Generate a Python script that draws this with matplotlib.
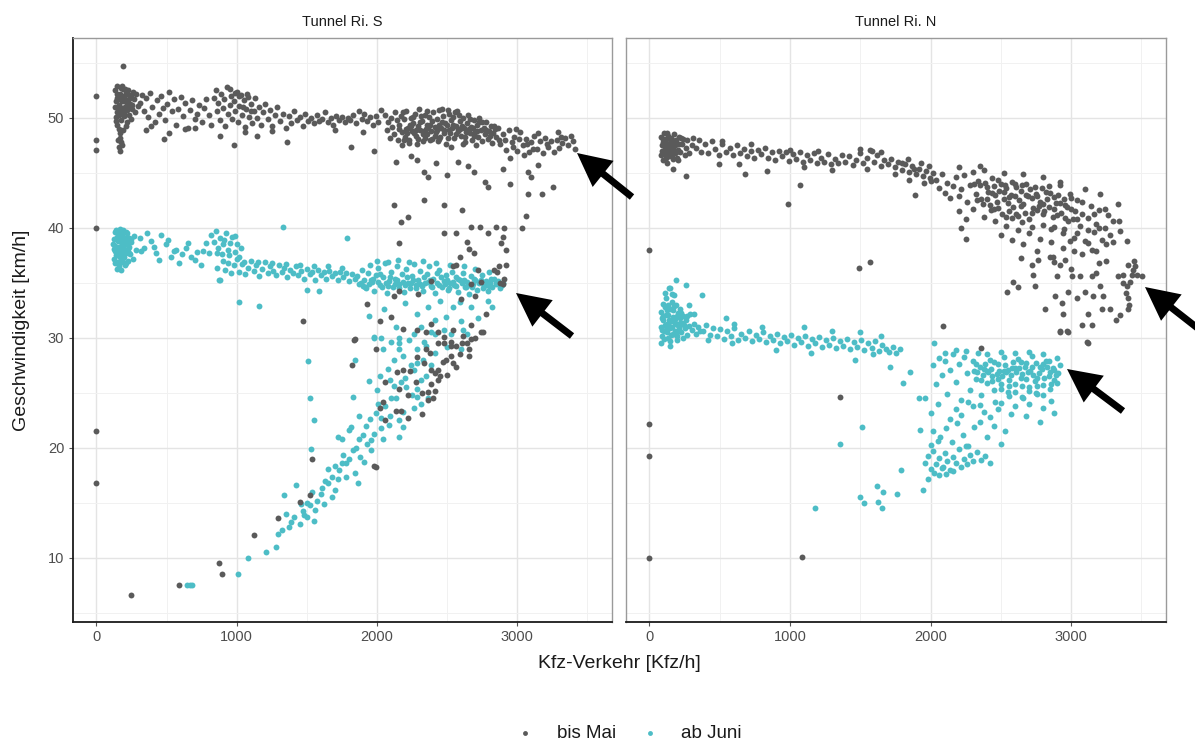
import matplotlib
matplotlib.use("Agg")
import matplotlib.pyplot as plt
from matplotlib.lines import Line2D
from matplotlib.patches import FancyArrowPatch
from matplotlib.ticker import MultipleLocator
import numpy as np

plt.rcParams['font.family'] = ['Liberation Sans', 'DejaVu Sans']

panel_titles = ["Tunnel Ri. S", "Tunnel Ri. N"]
series_labels = ["bis Mai", "ab Juni"]
series_colors = ["#5a5a5a", "#4dbdc6"]
x_ticks = [0, 1000, 2000, 3000]
y_ticks = [10, 20, 30, 40, 50]

# --- Tunnel Ri. S, bis Mai (Kfz/h, km/h) ---
s_mai = [
    (0, 52.0), (0, 48.0), (0, 47.1), (0, 40.0), (0, 21.5), (0, 16.8), (190, 54.7), (250, 6.6), (590, 7.5),
    (876, 9.5), (892, 8.5), (1123, 12.1), (1295, 13.6), (1448, 15.1), (1524, 15.7), (1537, 19.0), (1473, 31.5),
    (1834, 29.8), (1824, 27.5),
    (130, 52.5), (145, 51.8), (150, 52.9), (160, 51.2), (165, 50.6), (170, 52.2), (175, 49.8), (180, 51.5),
    (185, 50.9), (190, 52.6), (195, 50.2), (200, 51.9), (205, 51.0), (210, 52.3), (215, 49.6), (220, 50.7),
    (225, 51.6), (230, 52.1), (235, 50.3), (240, 51.3), (250, 52.0), (255, 50.8), (265, 51.7), (275, 50.5),
    (285, 52.2), (295, 51.1), (140, 50.1), (150, 49.4), (155, 50.9), (160, 49.0), (165, 48.6), (170, 48.2),
    (175, 47.8), (158, 47.4), (168, 47.0), (180, 47.5), (135, 51.0), (185, 52.9), (200, 50.4), (215, 51.4),
    (245, 49.9), (175, 52.7), (205, 52.6), (145, 50.5), (190, 48.9), (170, 51.9), (230, 50.9), (260, 52.4),
    (210, 49.3), (155, 48.0), (138, 51.5), (148, 52.2), (158, 50.3), (172, 50.8), (182, 52.0), (196, 51.5),
    (222, 52.5), (238, 51.8), (252, 51.2), (142, 49.7), (162, 51.7), (192, 50.6),
    (310, 51.4), (325, 52.1), (340, 50.6), (355, 51.8), (370, 50.1), (385, 52.3), (400, 51.0), (415, 49.6),
    (430, 51.6), (445, 50.4), (460, 52.0), (475, 50.9), (490, 49.8), (505, 51.3), (520, 52.4), (540, 50.6),
    (555, 51.7), (570, 49.4), (585, 50.8), (600, 51.9), (615, 50.2), (635, 51.4), (650, 49.1), (665, 50.7),
    (685, 51.6), (700, 49.9), (715, 50.4), (730, 51.2), (750, 49.6), (765, 50.9), (785, 51.7), (800, 50.3),
    (820, 49.4), (356, 48.9), (483, 48.1), (700, 49.1), (520, 48.6), (630, 49.0), (390, 49.3),
    (840, 51.8), (850, 52.5), (860, 50.6), (870, 51.4), (880, 49.8), (890, 52.2), (900, 50.9), (910, 51.7),
    (920, 49.3), (930, 52.8), (940, 50.4), (950, 51.2), (960, 52.0), (970, 49.9), (980, 51.5), (990, 50.6),
    (1000, 52.4), (1010, 49.6), (1020, 51.1), (1030, 52.1), (1040, 50.3), (1050, 51.6), (1060, 49.2),
    (1070, 50.8), (1080, 51.9), (1090, 50.1), (1100, 51.3), (1110, 49.5), (1120, 50.6), (1130, 51.8),
    (1145, 50.0), (1160, 51.0), (1175, 49.4), (1190, 50.5), (1205, 51.3), (1220, 49.9), (1240, 50.7),
    (1255, 49.3), (1270, 50.3), (1290, 51.0), (1310, 49.7), (1330, 50.4), (1350, 49.1), (978, 47.5),
    (1143, 48.4), (1359, 47.8), (1060, 48.7), (1250, 48.8), (880, 48.4), (955, 52.6), (985, 52.3),
    (1015, 52.0), (1045, 51.0), (1075, 52.2), (1105, 50.6),
    (1370, 50.2), (1390, 49.5), (1410, 50.6), (1430, 49.8), (1450, 50.1), (1470, 49.3), (1490, 50.4),
    (1510, 49.7), (1530, 50.0), (1550, 49.5), (1570, 50.3), (1590, 49.7), (1610, 49.9), (1630, 50.5),
    (1650, 49.6), (1670, 50.0), (1690, 49.4), (1710, 50.2), (1730, 49.8), (1750, 50.1), (1770, 49.6),
    (1790, 50.0), (1810, 49.8), (1830, 50.3), (1850, 49.5), (1870, 50.6), (1890, 49.9), (1910, 50.4),
    (1930, 49.7), (1950, 50.1), (1970, 49.4), (1990, 50.2), (2010, 49.6), (2030, 50.7), (1816, 47.4),
    (1981, 47.0), (1700, 48.9), (1900, 48.7),
    (2060, 50.3), (2070, 48.9), (2080, 49.6), (2090, 48.2), (2100, 50.0), (2110, 49.2), (2120, 48.5),
    (2130, 50.5), (2140, 49.8), (2150, 48.0), (2160, 49.4), (2170, 50.2), (2180, 48.7), (2190, 49.9),
    (2200, 48.3), (2210, 50.6), (2220, 49.1), (2230, 47.7), (2240, 50.0), (2250, 48.8), (2260, 49.5),
    (2270, 50.4), (2280, 48.4), (2290, 49.3), (2300, 50.8), (2310, 48.9), (2320, 49.7), (2330, 47.9),
    (2340, 50.3), (2350, 49.0), (2360, 48.5), (2370, 50.1), (2380, 49.4), (2390, 48.1), (2400, 50.5),
    (2410, 49.2), (2420, 48.7), (2430, 49.9), (2440, 50.7), (2450, 48.3), (2460, 49.6), (2470, 50.2),
    (2480, 48.9), (2490, 47.6), (2500, 49.4), (2510, 50.4), (2520, 48.6), (2530, 49.8), (2540, 50.1),
    (2550, 48.2), (2560, 49.3), (2570, 50.6), (2580, 48.8), (2590, 49.7), (2600, 48.4), (2610, 50.0),
    (2620, 49.1), (2630, 47.8), (2640, 49.5), (2650, 50.3), (2660, 48.6), (2670, 49.2), (2680, 48.0),
    (2690, 49.8), (2700, 48.7), (2710, 49.4), (2720, 48.3), (2730, 50.0), (2740, 48.9), (2750, 47.9),
    (2760, 49.1), (2770, 48.5), (2780, 49.6), (2790, 48.1), (2800, 48.8), (2810, 49.3), (2820, 47.7),
    (2830, 48.6), (2840, 49.0), (2850, 48.3),
    (2215, 48.6), (2245, 49.3), (2275, 48.9), (2305, 49.6), (2335, 48.8), (2365, 49.2), (2395, 49.7),
    (2425, 48.9), (2455, 49.1), (2485, 49.5), (2515, 48.9), (2545, 49.4), (2575, 49.0), (2605, 49.3),
    (2635, 48.7), (2665, 49.9), (2695, 48.4), (2225, 48.0), (2285, 47.6), (2345, 48.2), (2435, 47.9),
    (2525, 47.4), (2615, 47.6), (2705, 47.5), (2175, 47.5), (2155, 49.0), (2185, 50.5), (2355, 50.6),
    (2465, 50.8), (2555, 50.5),
    (2205, 49.0), (2235, 49.4), (2265, 48.6), (2295, 48.1), (2325, 48.5), (2355, 49.4), (2385, 48.8),
    (2415, 48.4), (2445, 49.4), (2475, 48.6), (2505, 48.2), (2535, 49.1), (2565, 48.5), (2595, 49.0),
    (2625, 48.3), (2655, 49.0), (2685, 49.1), (2715, 48.8), (2745, 49.6), (2775, 48.9), (2805, 48.4),
    (2835, 49.3), (2195, 48.0), (2255, 50.1), (2315, 50.2), (2375, 48.0), (2505, 50.7), (2585, 50.3),
    (2445, 48.1), (2725, 49.6),
    (2860, 49.1), (2880, 47.6), (2900, 48.5), (2920, 47.1), (2940, 48.9), (2960, 47.8), (2980, 48.3),
    (3000, 47.0), (3020, 48.7), (3040, 47.5), (3060, 48.1), (3080, 46.9), (3100, 47.8), (3120, 48.4),
    (3140, 47.2), (3160, 47.9), (3180, 46.8), (3200, 48.2), (3220, 47.4), (3240, 47.9), (3260, 46.9),
    (3280, 48.0), (3300, 47.3), (3320, 47.7), (3340, 48.2), (3360, 47.5), (3380, 48.4), (3400, 47.9),
    (3410, 47.2), (2870, 48.0), (2990, 49.0), (3150, 48.6), (3290, 48.7), (3050, 46.6), (2950, 46.4),
    (2910, 48.0), (3010, 48.1), (3110, 47.2), (3210, 47.6), (3310, 48.3), (2970, 47.4), (3070, 47.6),
    (2134, 46.0), (2337, 45.1), (2362, 44.6), (2286, 46.2), (2769, 44.2), (2794, 43.7), (2946, 44.0),
    (3073, 45.1), (3099, 44.6), (3150, 45.7), (3175, 43.1), (3251, 43.7), (3073, 43.1), (2692, 45.1),
    (2121, 42.1), (2337, 42.5), (2477, 42.1), (2604, 41.6), (2223, 41.0), (2172, 40.5), (3061, 41.1),
    (3035, 40.0), (2908, 40.0), (2477, 39.5), (2565, 39.5), (2667, 40.1), (2731, 40.1), (2794, 39.5),
    (2896, 39.2), (2883, 38.6), (2921, 38.0), (2642, 38.7), (2654, 38.1), (2692, 37.7), (2591, 37.4),
    (2159, 38.6), (2845, 40.1), (2870, 36.5), (2832, 36.2), (2921, 36.6), (2718, 36.2), (2565, 36.6),
    (2743, 35.1), (2667, 34.9), (2908, 35.4), (2896, 34.9), (2856, 36.0), (2878, 35.0), (2540, 36.5),
    (2388, 35.2), (2240, 46.5), (2580, 46.0), (2420, 45.9), (2650, 45.6), (2900, 45.4), (2500, 44.8),
    (2159, 34.3), (2121, 33.8), (2290, 34.0), (2600, 33.5), (2700, 33.8), (2388, 31.3), (2438, 30.5),
    (2540, 30.7), (2667, 31.2), (2743, 30.5), (2642, 29.5), (2527, 29.6), (2480, 30.1), (2286, 30.7),
    (2184, 30.8), (1841, 29.9), (1930, 33.1), (2019, 31.5), (2100, 31.9), (2780, 32.2),
    (1994, 29.0), (2350, 29.0), (2438, 29.5), (2477, 29.5), (2527, 29.3), (2604, 29.5), (2654, 29.0),
    (2591, 28.5), (2654, 28.4), (2489, 28.0), (2540, 27.7), (2438, 27.1), (2413, 26.8), (2451, 26.5),
    (2502, 26.6), (2565, 27.4), (2388, 25.8), (2362, 25.1), (2400, 24.5), (2324, 23.1), (2223, 24.8),
    (2159, 25.4), (2146, 26.9), (2057, 26.0), (2223, 22.7), (2172, 23.4), (2019, 23.6), (2057, 22.5),
    (1981, 18.4), (1994, 18.3), (2756, 30.5), (2350, 30.5), (2184, 27.1), (2337, 27.7), (2375, 28.6),
    (2286, 28.3), (2235, 27.0), (2324, 25.0), (2362, 24.4), (2413, 25.2), (2388, 27.1), (2565, 29.3),
    (2667, 29.9), (2527, 28.4), (2438, 26.2), (2134, 23.4), (2045, 24.2), (2700, 30.0), (2610, 30.2),
    (2280, 26.0), (2470, 27.8),
]

# --- Tunnel Ri. S, ab Juni ---
s_juni = [
    (120, 38.5), (125, 37.2), (130, 39.6), (135, 36.8), (140, 38.0), (145, 39.2), (150, 37.5), (155, 38.8),
    (160, 36.5), (165, 39.9), (170, 37.9), (175, 38.4), (180, 36.9), (185, 39.4), (190, 37.3), (195, 38.1),
    (200, 39.0), (205, 36.6), (210, 37.7), (215, 38.6), (220, 39.5), (225, 37.0), (230, 38.3), (235, 39.1),
    (240, 37.6), (250, 38.7), (260, 37.2), (270, 39.3), (280, 38.0), (128, 38.1), (138, 39.8), (148, 36.3),
    (158, 37.8), (168, 38.9), (178, 37.1), (188, 38.2), (198, 37.4), (208, 39.6), (218, 37.9), (228, 38.8),
    (143, 37.5), (163, 38.3), (183, 38.7), (203, 38.5), (153, 39.5), (173, 36.2), (193, 39.8), (213, 36.8),
    (133, 37.9), (245, 39.0), (126, 39.0), (136, 38.4), (146, 37.9), (156, 39.1), (166, 37.4), (176, 39.6),
    (186, 37.7), (196, 38.8), (206, 37.9), (216, 39.2), (226, 38.1), (236, 37.7), (142, 36.9), (162, 36.9),
    (310, 39.1), (341, 38.2), (389, 38.8), (424, 37.7), (460, 39.4), (495, 38.5), (531, 37.4), (566, 38.0),
    (590, 36.8), (638, 38.2), (673, 37.4), (720, 37.8), (744, 36.6), (780, 38.6), (804, 37.7), (320, 37.9),
    (360, 39.5), (410, 38.3), (445, 37.1), (510, 38.9), (550, 37.9), (610, 37.6), (655, 38.6), (700, 37.1),
    (760, 37.9),
    (820, 39.4), (835, 38.7), (850, 39.7), (865, 38.2), (880, 39.1), (895, 37.6), (910, 38.9), (925, 39.5),
    (940, 38.0), (955, 38.6), (970, 39.2), (985, 37.8), (1000, 38.5), (1015, 37.4), (1030, 38.2), (860, 37.7),
    (900, 38.5), (945, 37.5), (990, 39.3),
    (860, 36.4), (880, 35.3), (900, 37.0), (920, 36.2), (940, 36.8), (960, 35.9), (980, 36.6), (1000, 37.2),
    (1020, 36.0), (1040, 36.7), (1060, 35.8), (1080, 36.4), (1100, 37.0), (1120, 36.1), (1140, 36.6),
    (1160, 35.6), (1180, 36.3), (1200, 36.9), (1220, 35.9), (1240, 36.5), (1260, 36.1), (1280, 35.7),
    (1300, 36.6), (1320, 36.0), (1340, 36.4), (1360, 35.5), (1380, 36.2), (1400, 35.9), (1420, 36.5),
    (1440, 35.7), (1460, 36.1), (1480, 35.4), (1500, 36.3), (1520, 35.8), (1540, 36.0), (1560, 35.3),
    (1580, 36.2), (1600, 35.7), (1620, 36.0), (1640, 35.4), (1660, 36.1), (1680, 35.6), (1700, 35.9),
    (1720, 35.3), (1740, 36.0), (1760, 35.5), (1780, 35.9), (1800, 35.2), (1820, 35.8), (1840, 35.4),
    (1050, 36.9), (1150, 36.9), (1250, 36.8), (1350, 36.7), (1450, 36.6), (1550, 36.5), (1650, 36.5),
    (1750, 36.4),
    (1330, 40.1), (875, 35.3), (1017, 33.3), (1160, 32.9), (1504, 34.4), (1586, 34.3), (1788, 39.1),
    (1860, 35.6), (1875, 34.9), (1890, 36.2), (1905, 35.3), (1920, 34.5), (1935, 35.9), (1950, 36.6),
    (1965, 35.1), (1980, 34.3), (1995, 35.7), (2010, 36.4), (2025, 34.8), (2040, 35.5), (2055, 36.8),
    (2070, 34.1), (2085, 35.2), (2100, 36.0), (2115, 34.6), (2130, 35.4), (2145, 36.5), (2160, 34.9),
    (2175, 35.8), (2190, 34.2), (2205, 36.3), (2220, 35.0), (2235, 34.5), (2250, 35.6), (2265, 36.7),
    (2280, 34.8), (2295, 35.3), (2310, 36.1), (2325, 34.3), (2340, 35.0), (2355, 35.8), (2370, 36.5),
    (2385, 34.7), (2400, 35.4), (2415, 34.1), (2430, 35.9), (2445, 36.2), (2460, 34.6), (2475, 35.2),
    (2490, 35.7), (2505, 34.4), (2520, 35.0), (2535, 36.0), (2550, 34.8), (2565, 35.5), (2580, 34.2),
    (2595, 35.3), (2610, 35.9), (2625, 34.6), (2640, 35.1), (2655, 34.0), (2670, 35.6), (2685, 34.9),
    (2700, 35.3), (2715, 34.4), (2730, 35.0), (2745, 35.7), (2760, 34.7), (2775, 35.2), (2790, 34.3),
    (2805, 35.0), (2820, 34.6), (2835, 35.4), (2850, 34.9), (2865, 35.2), (2880, 34.5), (2895, 35.0),
    (1885, 35.0), (1945, 34.9), (2005, 35.1), (2065, 35.0), (2125, 34.9), (2185, 35.1), (2245, 35.0),
    (2305, 34.9), (2365, 35.1), (2425, 35.0), (2485, 34.9), (2545, 35.1), (2605, 35.0), (2665, 34.8),
    (2725, 35.1), (2785, 34.9), (2845, 35.1), (1915, 34.6), (1975, 35.4), (2035, 34.6), (2095, 35.5),
    (2155, 34.5), (2215, 35.5), (2275, 34.5), (2335, 35.5), (2395, 34.6), (2455, 35.5), (2515, 34.5),
    (2575, 35.4), (2635, 34.6), (2695, 35.4), (2755, 34.5), (2815, 35.4), (2875, 34.7),
    (1900, 34.7), (1960, 35.3), (2020, 35.8), (2080, 34.7), (2140, 35.3), (2200, 34.8), (2260, 35.3),
    (2320, 34.7), (2380, 35.3), (2440, 34.8), (2500, 35.3), (2560, 34.7), (2620, 35.3), (2680, 34.6),
    (2740, 35.3), (2800, 34.7), (2860, 35.0), (2890, 34.8),
    (2000, 37.0), (2080, 36.9), (2150, 37.1), (2230, 36.9), (2330, 37.0), (2420, 36.8), (2520, 36.6),
    (2620, 36.5), (2700, 36.3), (2800, 36.0),
    (1943, 32.0), (1981, 30.1), (2134, 31.0), (2261, 30.4), (2286, 32.2), (2362, 32.8), (2413, 31.6),
    (2489, 31.9), (2540, 32.8), (2591, 33.3), (2667, 32.8), (2794, 33.4), (2820, 32.8), (2311, 31.0),
    (2477, 30.7), (2616, 30.7), (2159, 29.5), (2337, 29.6), (2388, 30.5), (2200, 33.2), (2050, 32.6),
    (2450, 33.4), (2720, 31.8), (2600, 31.5),
    (1981, 30.0), (2032, 30.0), (2159, 30.0), (2413, 30.4), (2527, 30.4), (2642, 30.4), (2045, 29.0),
    (2159, 29.0), (2286, 29.0), (2413, 28.6), (2184, 28.4), (2286, 27.7), (2121, 28.0), (2261, 27.1),
    (2388, 27.5), (1511, 27.9), (1842, 28.0), (2019, 26.5), (1943, 26.1), (2096, 26.2), (2210, 25.5),
    (2311, 26.2), (2350, 26.5), (2286, 24.6), (2362, 24.5), (2311, 24.0), (2261, 23.6), (2184, 23.3),
    (2159, 22.5), (2096, 22.9), (2083, 22.1), (2032, 21.8), (1981, 21.3), (2045, 20.8), (2159, 21.0),
    (1930, 20.4), (1956, 19.8), (1880, 19.2), (1829, 19.8), (1803, 21.6), (1753, 20.8), (1816, 21.9),
    (1905, 18.7), (1778, 18.6), (1727, 18.0), (1676, 17.4), (1778, 17.4), (1842, 17.7), (1867, 16.8),
    (1651, 18.1), (1651, 16.8), (1600, 15.8), (1676, 15.5), (1575, 15.2), (1524, 14.8), (1473, 14.3),
    (1499, 13.7), (1549, 13.4), (1448, 13.1), (1372, 12.8), (1321, 12.5), (1295, 12.2), (1410, 13.7),
    (1334, 15.7), (1422, 16.6), (1207, 10.5), (1278, 11.0), (1080, 10.0), (1011, 8.5), (648, 7.5),
    (681, 7.5), (665, 7.5), (1524, 24.5), (1554, 22.5), (1530, 19.9), (1753, 18.6), (1956, 20.7),
    (2032, 22.7), (2134, 24.5), (2184, 21.9), (2248, 24.8), (2286, 25.4),
    (1460, 14.9), (1500, 15.0), (1540, 16.0), (1560, 14.4), (1610, 16.4), (1630, 17.0), (1700, 18.4),
    (1720, 17.2), (1760, 19.4), (1800, 19.0), (1850, 20.0), (1870, 20.8), (1900, 21.2), (1920, 22.0),
    (1950, 22.6), (1990, 23.2), (2010, 24.0), (2060, 23.8), (2100, 24.5), (2120, 25.6), (2200, 26.4),
    (2240, 27.5), (2330, 28.0), (2080, 27.2), (2170, 26.0), (2000, 25.3), (1480, 13.9), (1390, 13.3),
    (1350, 14.0), (1620, 14.9), (1700, 16.2), (1870, 22.9), (1830, 24.6), (1720, 21.0), (2230, 29.8),
    (2350, 29.3), (2500, 29.2), (2600, 29.0), (2100, 29.6),
]

# --- Tunnel Ri. N, bis Mai ---
n_mai = [
    (0, 38.0), (0, 22.2), (0, 19.3), (0, 10.0), (1088, 10.1), (1357, 24.6), (170, 45.4), (261, 44.7),
    (496, 45.8), (639, 45.8), (679, 44.9), (835, 45.2), (1070, 43.9), (987, 42.2), (1892, 43.0), (1488, 36.4),
    (1566, 36.9), (2218, 40.0), (2252, 39.0), (2088, 31.1), (3119, 29.5), (2923, 30.5), (2975, 30.5),
    (2362, 29.1),
    (80, 48.3), (90, 47.0), (95, 46.2), (100, 47.8), (105, 48.6), (110, 46.7), (115, 47.4), (120, 48.1),
    (125, 45.9), (130, 47.2), (135, 48.4), (140, 46.5), (145, 47.7), (150, 46.9), (155, 48.2), (160, 47.3),
    (165, 46.3), (170, 47.9), (175, 48.5), (180, 46.8), (185, 47.5), (190, 48.0), (195, 46.4), (200, 47.1),
    (210, 48.3), (220, 46.9), (230, 47.6), (240, 48.1), (250, 46.6), (260, 47.3), (270, 48.0), (285, 46.8),
    (300, 47.5), (310, 48.2), (88, 47.5), (112, 48.0), (138, 47.0), (162, 48.0), (188, 46.9), (212, 47.6),
    (98, 46.9), (128, 48.6), (152, 47.5), (178, 47.1), (205, 46.2), (118, 46.4), (84, 46.6), (94, 48.1),
    (108, 47.2), (122, 47.6), (132, 46.6), (148, 48.1), (158, 46.6), (168, 47.6), (196, 47.6), (225, 48.2),
    (330, 47.3), (350, 48.0), (370, 46.9), (395, 47.6), (420, 46.8), (445, 47.9), (470, 47.2), (495, 46.6),
    (520, 47.6), (545, 46.9), (570, 47.3), (595, 46.6), (620, 47.5), (645, 46.8), (670, 47.2), (695, 46.5),
    (720, 47.0), (745, 46.4), (770, 47.1), (795, 46.7), (820, 47.3), (845, 46.4), (870, 46.9), (895, 46.2),
    (920, 47.0), (945, 46.5), (970, 46.9), (995, 46.1), (1020, 46.7), (1045, 46.3), (1070, 46.9),
    (1095, 46.0), (1120, 46.6), (1145, 46.2), (1170, 46.8), (1195, 45.9), (1220, 46.4), (1245, 46.0),
    (1270, 46.7), (1295, 45.8), (1320, 46.3), (1345, 45.9), (1370, 46.6), (1395, 46.0), (1420, 46.5),
    (1445, 45.7), (1470, 46.2), (1495, 46.8), (1520, 45.9), (1545, 46.4), (1570, 47.1), (1595, 46.0),
    (1620, 46.6), (1645, 45.6), (1670, 46.2), (1695, 45.8), (1720, 46.3), (1745, 45.5), (1770, 46.0),
    (1795, 45.3), (1820, 45.8), (1845, 45.1), (1870, 45.6), (1895, 44.9), (1920, 45.4), (1945, 44.7),
    (1970, 45.2), (1995, 44.5), (2020, 45.0), (1500, 47.2), (1580, 47.0), (1650, 46.9), (1200, 47.0),
    (1000, 47.1), (720, 47.6), (520, 47.9), (1100, 45.5), (1300, 45.3), (1550, 45.4), (1750, 44.9),
    (1850, 44.4), (1950, 44.1), (1800, 45.9), (1840, 46.3), (1880, 45.4), (1930, 45.9), (1990, 45.6),
    (2000, 44.3),
    (2040, 44.4), (2060, 43.6), (2080, 44.9), (2100, 43.2), (2120, 44.1), (2140, 42.7), (2160, 43.8),
    (2180, 44.6), (2200, 42.9), (2220, 43.5), (2240, 44.8), (2260, 42.4), (2280, 43.9), (2300, 45.1),
    (2320, 43.1), (2340, 44.3), (2360, 42.6), (2380, 45.3), (2400, 43.7), (2420, 42.1), (2440, 44.5),
    (2460, 43.0), (2480, 41.8), (2500, 44.0), (2520, 42.6), (2540, 43.6), (2560, 41.5), (2580, 44.2),
    (2600, 42.9), (2620, 41.1), (2640, 43.4), (2660, 42.2), (2680, 44.0), (2700, 40.8), (2720, 42.7),
    (2740, 43.7), (2760, 41.6), (2780, 42.4), (2800, 40.3), (2820, 43.3), (2840, 41.9), (2860, 39.9),
    (2880, 42.8), (2900, 41.2), (2920, 43.9), (2940, 39.5), (2960, 42.1), (2980, 40.6), (3000, 41.7),
    (3020, 39.1), (3040, 42.5), (3060, 40.2), (3080, 41.3), (3100, 38.8), (3120, 40.9), (3140, 42.0),
    (3160, 39.6), (3180, 40.4), (3200, 41.6), (3220, 38.9), (3240, 40.0), (3260, 41.2), (3280, 39.4),
    (3300, 40.6),
    (2350, 43.9), (2370, 42.2), (2390, 44.1), (2410, 43.3), (2430, 41.6), (2450, 43.8), (2470, 42.4),
    (2490, 43.4), (2510, 41.3), (2530, 43.9), (2550, 42.3), (2570, 43.0), (2590, 41.9), (2610, 43.7),
    (2630, 42.5), (2650, 43.9), (2670, 41.4), (2690, 42.9), (2710, 43.5), (2730, 41.8), (2750, 43.1),
    (2770, 42.0), (2790, 43.6), (2810, 41.5), (2830, 42.6), (2850, 43.2), (2870, 41.0), (2890, 42.3),
    (2910, 43.0), (2930, 41.4), (2950, 42.6), (2970, 41.9), (2990, 43.1), (3010, 40.8), (3030, 41.5),
    (2380, 41.0), (2460, 40.6), (2540, 40.2), (2620, 39.8), (2700, 39.5), (2780, 39.0), (2860, 38.7),
    (2940, 38.2), (3020, 37.9), (2580, 38.9), (2660, 38.5), (2760, 37.9), (2850, 37.4), (2960, 37.1),
    (3080, 37.6), (2300, 41.7), (2250, 40.8), (2200, 41.5), (2500, 39.4), (2640, 37.3), (2880, 36.9),
    (3150, 38.0), (3300, 38.7), (3330, 42.2), (3340, 40.6), (3350, 39.7), (3396, 38.8), (3206, 43.1),
    (3100, 43.5), (2922, 44.2), (2800, 44.6), (2660, 44.9), (2520, 45.0), (2352, 45.6), (2200, 45.5),
    (2310, 44.0), (2330, 42.5), (2400, 42.6), (2440, 43.2), (2480, 44.4), (2520, 43.3), (2560, 42.8),
    (2600, 44.0), (2640, 42.0), (2680, 43.0), (2720, 41.4), (2760, 42.9), (2800, 42.2), (2840, 43.8),
    (2880, 41.7), (2920, 42.3), (2960, 40.9), (3000, 42.7), (3040, 40.8), (3080, 42.4), (3120, 39.8),
    (3160, 41.3), (3200, 40.0), (3240, 41.7), (2580, 40.9), (2650, 40.5), (2720, 40.1), (2800, 41.3),
    (2880, 40.1), (2950, 39.9), (3040, 39.5), (3120, 38.6), (3250, 38.5), (2450, 41.7), (2540, 41.0),
    (2610, 41.3), (2990, 38.8), (3180, 37.9),
    (2542, 34.2), (2590, 35.1), (2625, 34.6), (2732, 35.7), (2744, 34.7), (2767, 37.1), (2815, 32.6),
    (2886, 33.8), (2898, 35.6), (2938, 33.2), (2945, 32.2), (2921, 30.6), (2969, 30.6), (2981, 34.2),
    (3005, 35.6), (3064, 35.6), (3040, 33.6), (3100, 34.2), (3076, 31.2), (3123, 32.2), (3147, 31.2),
    (3147, 35.6), (3159, 33.8), (3206, 34.7), (3218, 32.6), (3230, 33.8), (3277, 32.6), (3337, 35.6),
    (3349, 32.1), (3320, 31.6), (3408, 32.6), (3111, 29.6), (2720, 36.6), (2874, 37.4), (2922, 36.6),
    (3000, 36.3), (3200, 36.8), (3250, 37.0), (3180, 35.9),
    (3372, 35.7), (3408, 36.6), (3443, 36.2), (3467, 35.7), (3503, 35.6), (3420, 35.1), (3396, 34.7),
    (3391, 34.1), (3403, 33.6), (3455, 36.5), (3430, 35.7), (3368, 35.0), (3450, 37.0), (3410, 33.0),
]

# --- Tunnel Ri. N, ab Juni ---
n_juni = [
    (80, 31.0), (85, 32.4), (90, 30.2), (95, 33.1), (100, 31.6), (105, 29.9), (110, 32.8), (115, 30.7),
    (120, 33.6), (125, 31.3), (130, 30.0), (135, 32.1), (140, 34.5), (145, 30.9), (150, 32.6), (155, 31.5),
    (160, 33.3), (165, 30.4), (170, 31.9), (175, 32.9), (180, 30.6), (185, 31.7), (190, 33.0), (195, 30.2),
    (200, 31.2), (205, 32.3), (210, 30.8), (215, 31.8), (220, 32.6), (225, 30.5), (230, 31.4), (240, 32.0),
    (250, 30.9), (260, 31.6), (270, 30.3), (280, 31.1), (290, 32.2), (300, 30.7), (315, 31.3), (330, 30.4),
    (345, 31.0), (360, 30.6), (188, 35.3), (261, 34.8), (144, 34.5), (371, 33.9), (548, 31.8), (92, 31.8),
    (108, 31.2), (122, 30.5), (138, 31.1), (152, 30.3), (168, 32.5), (182, 31.4), (198, 32.0), (212, 31.0),
    (228, 32.3), (118, 32.1), (132, 33.0), (158, 34.0), (178, 33.9), (103, 30.6), (147, 29.7), (196, 29.8),
    (236, 30.0), (85, 29.5), (280, 33.0), (320, 32.2), (112, 34.1), (98, 32.0), (128, 32.5), (142, 31.6),
    (162, 31.0), (172, 30.4), (192, 31.3), (202, 30.6), (218, 31.4), (245, 31.2), (265, 32.0), (88, 30.7),
    (380, 30.6), (405, 31.2), (430, 30.3), (455, 30.9), (480, 30.2), (505, 30.8), (530, 29.9), (555, 30.6),
    (580, 30.2), (605, 30.9), (630, 29.8), (655, 30.4), (680, 30.0), (705, 30.6), (730, 29.7), (755, 30.3),
    (780, 29.9), (805, 30.5), (830, 29.6), (855, 30.2), (880, 29.8), (905, 30.4), (930, 29.5), (955, 30.1),
    (980, 29.7), (1005, 30.3), (1030, 29.4), (1055, 30.0), (1080, 29.6), (1105, 30.2), (1130, 29.3),
    (1155, 29.9), (1180, 29.5), (1205, 30.1), (1230, 29.2), (1255, 29.8), (1280, 29.4), (1305, 30.0),
    (1330, 29.1), (1355, 29.7), (1380, 29.3), (1405, 29.9), (1430, 29.0), (1455, 29.6), (1480, 29.2),
    (1505, 29.8), (1530, 28.9), (1555, 29.5), (1580, 29.1), (1605, 29.7), (1630, 28.8), (1655, 29.4),
    (1680, 29.0), (1705, 28.7), (1730, 29.2), (1755, 28.6), (1780, 29.0), (144, 29.3), (418, 29.8),
    (587, 29.5), (900, 28.9), (1148, 28.6), (1462, 28.0), (1592, 28.5), (1710, 27.4), (1853, 26.9),
    (1801, 25.9), (1918, 24.5), (1958, 24.5), (2023, 29.5), (1100, 31.0), (1300, 30.6), (1500, 30.5),
    (1650, 30.2), (800, 31.0), (600, 31.3),
    (1514, 21.9), (1357, 20.4), (1175, 14.5), (1501, 15.5), (1527, 15.0), (1618, 16.5), (1664, 16.0),
    (1625, 15.1), (1657, 14.5), (1788, 18.0), (1926, 21.6), (1760, 15.8),
    (1960, 18.6), (1980, 19.3), (2000, 18.1), (2020, 19.7), (2040, 18.5), (2060, 19.1), (2080, 18.2),
    (2100, 19.5), (2120, 18.8), (2140, 18.0), (2160, 19.2), (2180, 18.6), (2200, 19.9), (2220, 18.3),
    (2240, 19.0), (2260, 18.5), (2280, 19.4), (2300, 18.8), (2330, 19.6), (2360, 18.9), (2390, 19.3),
    (2420, 18.6), (1945, 16.2), (1984, 17.2), (2023, 17.7), (2062, 17.5), (2088, 18.3), (2000, 20.3),
    (2050, 20.6), (2110, 17.6), (2160, 17.9), (2250, 20.2),
    (2070, 21.0), (2110, 21.8), (2150, 20.5), (2190, 22.3), (2230, 21.2), (2270, 20.2), (2310, 21.9),
    (2350, 22.4), (2400, 21.0), (2450, 22.0), (2500, 20.4), (2530, 21.5), (2140, 22.6), (2020, 21.5),
    (2220, 23.0), (2380, 23.3), (2480, 23.5), (2300, 23.8),
    (2020, 27.5), (2040, 25.8), (2060, 28.2), (2080, 26.6), (2100, 27.9), (2120, 24.9), (2140, 27.1),
    (2160, 28.5), (2180, 26.0), (2200, 27.6), (2220, 24.4), (2240, 28.3), (2260, 26.8), (2280, 25.3),
    (2300, 27.9), (2320, 26.3), (2340, 28.6), (2360, 24.8), (2380, 27.2), (2400, 25.9), (2420, 28.0),
    (2440, 26.5), (2460, 24.2), (2480, 27.6), (2500, 25.4), (2520, 28.3), (2540, 26.9), (2560, 24.7),
    (2580, 27.3), (2600, 25.8), (2620, 28.1), (2640, 26.4), (2660, 24.5), (2680, 27.7), (2700, 25.5),
    (2720, 28.4), (2740, 26.1), (2760, 24.9), (2780, 27.4), (2800, 25.7), (2820, 27.9), (2840, 26.5),
    (2860, 24.3), (2880, 27.1), (2900, 25.9), (2920, 27.5), (2910, 26.8),
    (2310, 27.0), (2330, 26.9), (2350, 27.4), (2370, 26.6), (2390, 27.6), (2410, 26.9), (2430, 27.2),
    (2450, 27.8), (2470, 26.7), (2490, 27.0), (2510, 26.5), (2530, 27.5), (2550, 27.1), (2570, 26.6),
    (2590, 27.8), (2610, 26.9), (2630, 27.3), (2650, 26.7), (2670, 27.4), (2690, 26.9), (2710, 27.0),
    (2730, 26.6), (2750, 27.7), (2770, 26.8), (2790, 27.2), (2810, 26.4), (2830, 27.4), (2850, 26.9),
    (2870, 27.3), (2890, 26.6), (2450, 25.3), (2550, 25.1), (2650, 25.6), (2750, 25.0), (2850, 25.4),
    (2500, 24.1), (2600, 23.8), (2700, 24.0), (2800, 23.6), (2350, 23.9), (2420, 22.8), (2570, 23.1),
    (2680, 22.9), (2780, 22.4), (2880, 23.2), (2400, 28.5), (2500, 28.7), (2600, 28.6), (2700, 28.7),
    (2800, 28.5), (2900, 28.2), (2250, 28.8), (2180, 28.9), (2100, 28.6), (2050, 24.0), (2000, 23.2),
    (2180, 23.5), (2270, 24.2),
    (2320, 27.6), (2360, 26.2), (2400, 27.0), (2440, 26.1), (2480, 26.3), (2520, 27.0), (2560, 26.2),
    (2600, 27.3), (2640, 27.8), (2680, 26.3), (2720, 27.4), (2760, 26.4), (2800, 27.6), (2840, 27.9),
    (2880, 26.2), (2500, 25.8), (2600, 25.1), (2700, 25.2), (2800, 24.8), (2560, 25.6), (2760, 25.6),
    (2860, 25.8), (2650, 24.6),
]

panels = [(s_mai, s_juni), (n_mai, n_juni)]

fig = plt.figure(figsize=(11.95, 7.42), dpi=100)
W, H = 1195, 742
ax_boxes = [(72.5, 612), (625.5, 1166)]
top_px, bot_px = 38, 622

for i, (mai, juni) in enumerate(panels):
    l, r = ax_boxes[i]
    ax = fig.add_axes([l / W, 1 - bot_px / H, (r - l) / W, (bot_px - top_px) / H])
    ax.set_xlim(-170, 3675)
    ax.set_ylim(4.18, 57.27)
    ax.xaxis.set_major_locator(MultipleLocator(1000))
    ax.xaxis.set_minor_locator(MultipleLocator(500))
    ax.yaxis.set_major_locator(MultipleLocator(10))
    ax.yaxis.set_minor_locator(MultipleLocator(5))
    ax.grid(which='major', color='#e4e4e4', lw=1.0, zorder=0)
    ax.grid(which='minor', color='#f1f1f1', lw=0.7, zorder=0)
    ax.set_axisbelow(True)

    for data, col in zip((juni, mai), (series_colors[1], series_colors[0])):
        arr = np.array(data)
        ax.scatter(arr[:, 0], arr[:, 1], s=18, color=col, linewidths=0, zorder=3)

    for side in ['top', 'right']:
        ax.spines[side].set_color('#9a9a9a')
        ax.spines[side].set_linewidth(1.0)
    ax.spines['bottom'].set_color('#1a1a1a')
    ax.spines['bottom'].set_linewidth(1.3)
    if i == 0:
        ax.spines['left'].set_color('#1a1a1a')
        ax.spines['left'].set_linewidth(1.3)
    else:
        ax.spines['left'].set_color('#9a9a9a')
        ax.spines['left'].set_linewidth(1.0)

    ax.set_xticks(x_ticks)
    ax.set_yticks(y_ticks)
    ax.tick_params(which='minor', length=0)
    ax.tick_params(which='major', length=3, color='#555555', labelcolor='#4d4d4d',
                   labelsize=10.5, pad=3)
    if i == 1:
        ax.tick_params(axis='y', labelleft=False, length=0)

    fig.text((l + r) / 2 / W, 1 - 22 / H, panel_titles[i], ha='center', va='center',
             fontsize=10.5, color='#1a1a1a')

fig.text(22 / W, 1 - 330 / H, "Geschwindigkeit [km/h]", rotation=90, ha='center', va='center',
         fontsize=14, color='#1a1a1a')
fig.text(619 / W, 1 - 663 / H, "Kfz-Verkehr [Kfz/h]", ha='center', va='center',
         fontsize=14, color='#1a1a1a')

# Pfeile (Bildpixel, von oben gemessen)
arrows = [((632, 197), (577, 153)), ((572, 336), (516, 293)),
          ((1200, 330), (1145, 287)), ((1123, 411), (1067, 369))]
for (tx, ty), (hx, hy) in arrows:
    fig.add_artist(FancyArrowPatch(
        (tx / W, 1 - ty / H), (hx / W, 1 - hy / H), transform=fig.transFigure,
        arrowstyle='-|>', mutation_scale=40, lw=5, color='black',
        shrinkA=0, shrinkB=0, joinstyle='miter', capstyle='butt'))

# Legende unten, von Hand gesetzt
legend_dot_x = [525, 650]
legend_text_x = [557, 681]
legend_y = 1 - 733 / H
for k in range(2):
    fig.add_artist(Line2D([legend_dot_x[k] / W], [legend_y], transform=fig.transFigure, ls='',
                          marker='o', ms=3.5, mec='none', mfc=series_colors[k]))
    fig.text(legend_text_x[k] / W, legend_y, series_labels[k], ha='left', va='center',
             fontsize=13.5, color='#1a1a1a')

fig.savefig("out.png", dpi=100)
